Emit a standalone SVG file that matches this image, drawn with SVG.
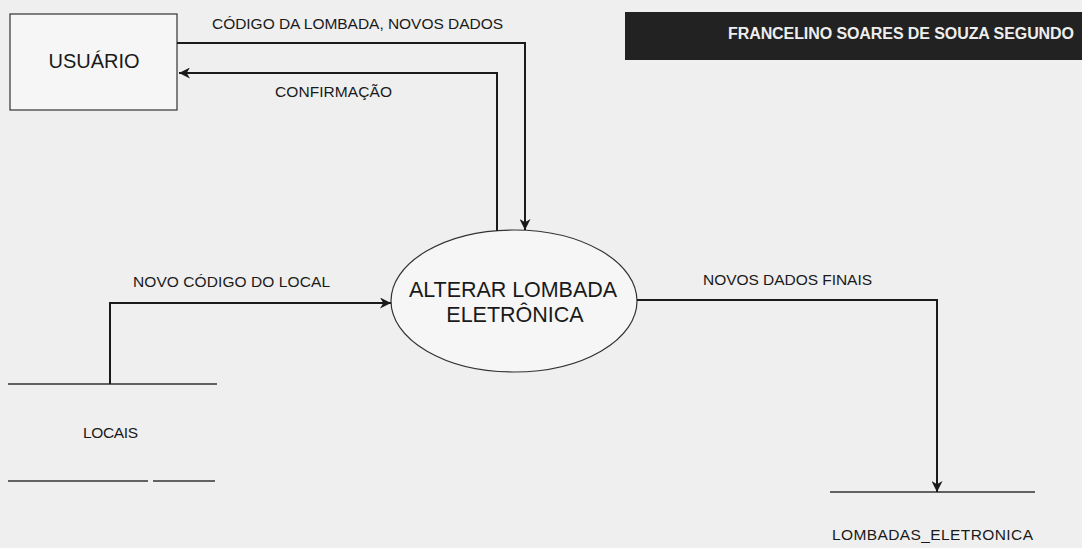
<svg xmlns="http://www.w3.org/2000/svg" width="1082" height="548" viewBox="0 0 1082 548">
<defs>
<marker id="arr" markerUnits="userSpaceOnUse" viewBox="0 0 10 10" refX="10" refY="5" markerWidth="12" markerHeight="11" orient="auto">
<path d="M0,0 L10,5 L0,10 L3,5 z" fill="#1a1a1a"/>
</marker>
<style>
.lbl{font-family:"Liberation Sans",Arial,sans-serif;font-size:15.5px;fill:#1a1a1a}
.big{font-family:"Liberation Sans",Arial,sans-serif;fill:#1a1a1a}
.flow{fill:none;stroke:#1a1a1a;stroke-width:2}
.store{stroke:#333;stroke-width:1.3}
</style>
</defs>
<rect x="0" y="0" width="1082" height="548" fill="#efefef"/>
<g id="title">
<rect x="625" y="12" width="457" height="48" fill="#222222"/>
<text x="1074" y="39" text-anchor="end" font-family="'Liberation Sans',Arial,sans-serif" font-weight="bold" font-size="16" fill="#eeeeee" textLength="346" lengthAdjust="spacing">FRANCELINO SOARES DE SOUZA SEGUNDO</text>
</g>
<g id="usuario">
<rect x="10" y="14" width="167" height="96" fill="#f6f6f6" stroke="#333" stroke-width="1.2"/>
<text class="big" x="94" y="68" text-anchor="middle" font-size="20">USUÁRIO</text>
</g>
<g id="processo">
<ellipse cx="514" cy="301" rx="123" ry="71" fill="#f6f6f6" stroke="#333" stroke-width="1.2"/>
<text class="big" x="513" y="297" text-anchor="middle" font-size="21.5" textLength="208" lengthAdjust="spacing">ALTERAR LOMBADA</text>
<text class="big" x="515" y="322" text-anchor="middle" font-size="21.5">ELETRÔNICA</text>
</g>
<g id="locais">
<line class="store" x1="8" y1="384" x2="217" y2="384"/>
<line class="store" x1="8" y1="481" x2="148" y2="481"/>
<line class="store" x1="153" y1="481" x2="215" y2="481"/>
<text class="lbl" x="83" y="438" textLength="55" lengthAdjust="spacing">LOCAIS</text>
</g>
<g id="lombadas">
<line class="store" x1="830" y1="492" x2="1035" y2="492"/>
<text class="lbl" x="832" y="540" textLength="201" lengthAdjust="spacing">LOMBADAS_ELETRONICA</text>
</g>
<g id="connectors">
<path class="flow" d="M177,43 H525 V230" marker-end="url(#arr)"/>
<text class="lbl" x="212" y="29" textLength="291" lengthAdjust="spacing">CÓDIGO DA LOMBADA, NOVOS DADOS</text>
<path class="flow" d="M497,231 V73 H179" marker-end="url(#arr)"/>
<text class="lbl" x="275" y="97" textLength="117" lengthAdjust="spacing">CONFIRMAÇÃO</text>
<path class="flow" d="M110,384 V303 H391" marker-end="url(#arr)"/>
<text class="lbl" x="133" y="287" textLength="197" lengthAdjust="spacing">NOVO CÓDIGO DO LOCAL</text>
<path class="flow" d="M637,300 H937 V492" marker-end="url(#arr)"/>
<text class="lbl" x="703" y="285" textLength="169" lengthAdjust="spacing">NOVOS DADOS FINAIS</text>
</g>
</svg>
